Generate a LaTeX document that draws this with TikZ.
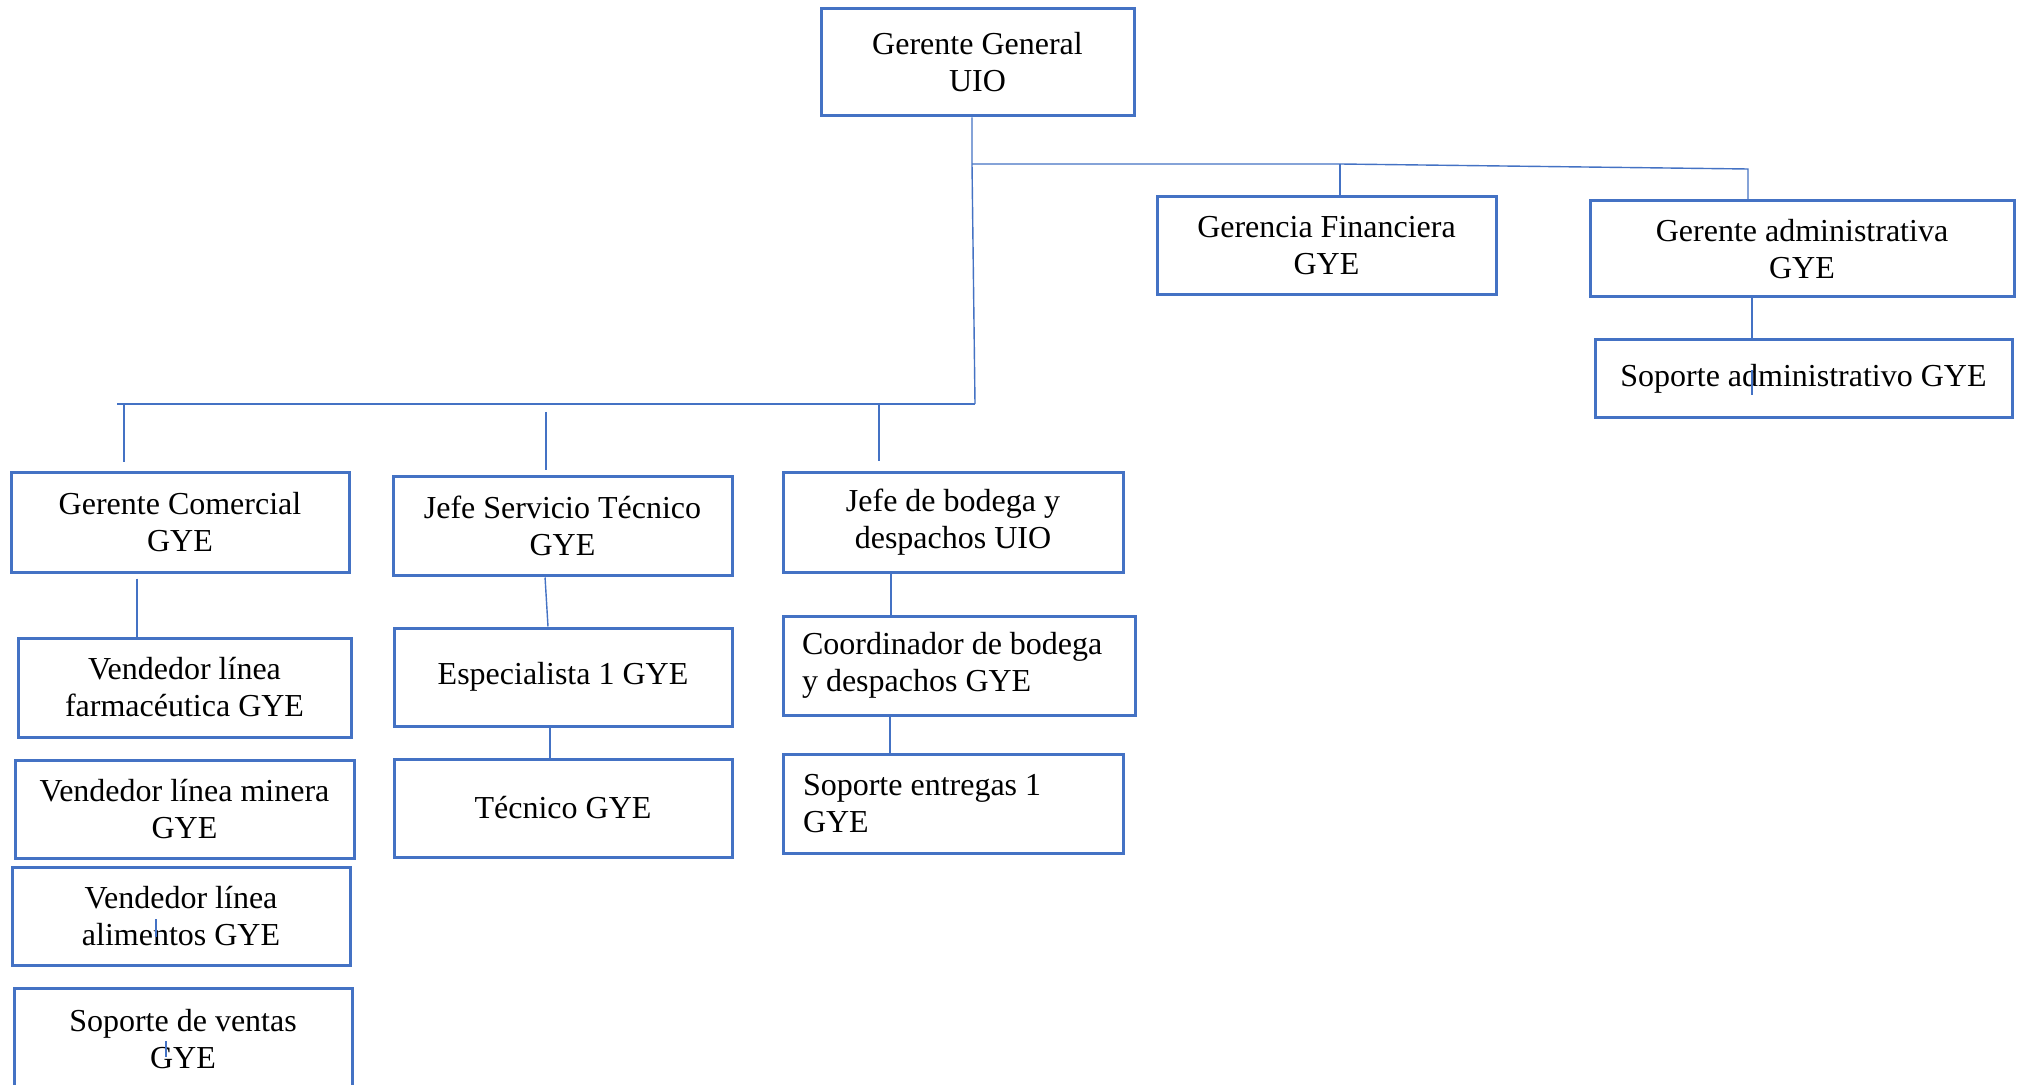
\documentclass[tikz,border=0pt]{standalone}
\usepackage{fontspec}
\setmainfont{Liberation Serif}
\definecolor{boxblue}{HTML}{4472C4}
\begin{document}
\begin{tikzpicture}[x=0.5pt, y=-0.5pt,
  box/.style={draw=boxblue, line width=1.5pt, inner sep=0pt, align=center,
    fill=white, font=\fontsize{16pt}{18.5pt}\selectfont},
  size/.style n args={2}{minimum width=#1, minimum height=#2},
  leftbox/.style={box, align=flush left},
  link/.style={draw=boxblue, line width=0.7pt}]
\fill[white] (0,0) rectangle (2019,1085);
\useasboundingbox (0,0) rectangle (2019,1085);

% top level
\node[box, size={156.5pt}{53.5pt}] (gg) at (977.5,62.5) {Gerente General\\UIO};
\node[box, size={169.5pt}{49pt}] (gf) at (1326.5,246) {Gerencia Financiera\\GYE};
\node[box, size={212pt}{48pt}] (ga) at (1802,249) {Gerente administrativa\\GYE};
\node[box, size={208.5pt}{39pt}] (sa) at (1803.5,379) {Soporte administrativo GYE};

% commercial branch
\node[box, size={169pt}{49.5pt}] (gc) at (180,522.5) {Gerente Comercial\\GYE};
\node[box, size={166.5pt}{49.5pt}] (vf) at (184.5,687.5) {Vendedor línea\\farmacéutica GYE};
\node[box, size={169.5pt}{49pt}] (vm) at (184.5,809) {Vendedor línea minera\\GYE};
\node[box, size={169pt}{49pt}] (va) at (181,916) {Vendedor línea\\alimentos GYE};
\node[box, size={169pt}{51pt}] (sv) at (183,1039) {Soporte de ventas\\GYE};

% technical service branch
\node[box, size={169.5pt}{49pt}] (js) at (562.5,526) {Jefe Servicio Técnico\\GYE};
\node[box, size={169pt}{49pt}] (es) at (563,677) {Especialista 1 GYE};
\node[box, size={169pt}{49pt}] (tg) at (563,808) {Técnico GYE};

% warehouse branch
\node[box, size={170pt}{49.5pt}] (jb) at (953,522.5) {Jefe de bodega y\\despachos UIO};
\node[leftbox, text width=157pt, size={176pt}{49.5pt}] (co) at (959,665.5) {Coordinador de bodega\\y despachos GYE};
\node[leftbox, text width=150pt, size={170pt}{49.5pt}] (se) at (953,803.5) {Soporte entregas 1\\GYE};

% junction points
\coordinate (t0) at (972,116);
\coordinate (t1) at (972,164);
\coordinate (t2) at (975,404);
\coordinate (b1) at (1340,164);
\coordinate (b2) at (1748,169);
\coordinate (busL) at (117,404);
\coordinate (d1) at (124,404);
\coordinate (d2) at (546,412);
\coordinate (d3) at (879,403);
\coordinate (c1) at (1752,0);
\coordinate (c2) at (137,0);
\coordinate (c3) at (891,0);
\coordinate (c4) at (550,0);

% trunk and upper bus
\draw[link] (gg.south -| t0) -- (t1) -- (t2);
\draw[link] (t1) -- (b1) -- (b2) -- (b2 |- ga.north);
\draw[link] (b1) -- (b1 |- gf.north);
\draw[link] (ga.south -| c1) -- (sa.north -| c1);

% lower bus and drops
\draw[link] (t2) -- (busL);
\draw[link, shorten >=4.5pt] (d1) -- (d1 |- gc.north);
\draw[link, shorten >=2.5pt] (d2) -- (d2 |- js.north);
\draw[link, shorten >=5pt] (d3) -- (d3 |- jb.north);

% second level links
\draw[link, shorten <=2.5pt] (gc.south -| c2) -- (vf.north -| c2);
\draw[link, shorten <=0.5pt] ([xshift=-0.5pt]js.south -| d2) -- ([xshift=1pt]es.north -| d2);
\draw[link] (es.south -| c4) -- (tg.north -| c4);
\draw[link] (jb.south -| c3) -- (co.north -| c3);
\draw[link, shorten >=-1.5pt] ([xshift=-0.5pt]co.south -| c3) -- ([xshift=-0.5pt]se.north -| c3);

% short marks over the text
\coordinate (k1a) at (1752,370); \coordinate (k1b) at (1752,395);
\coordinate (k2a) at (156,919);  \coordinate (k2b) at (156,937);
\coordinate (k3a) at (166,1041); \coordinate (k3b) at (166,1057);
\draw[link] (k1a) -- (k1b);
\draw[link] (k2a) -- (k2b);
\draw[link] (k3a) -- (k3b);
\end{tikzpicture}
\end{document}
